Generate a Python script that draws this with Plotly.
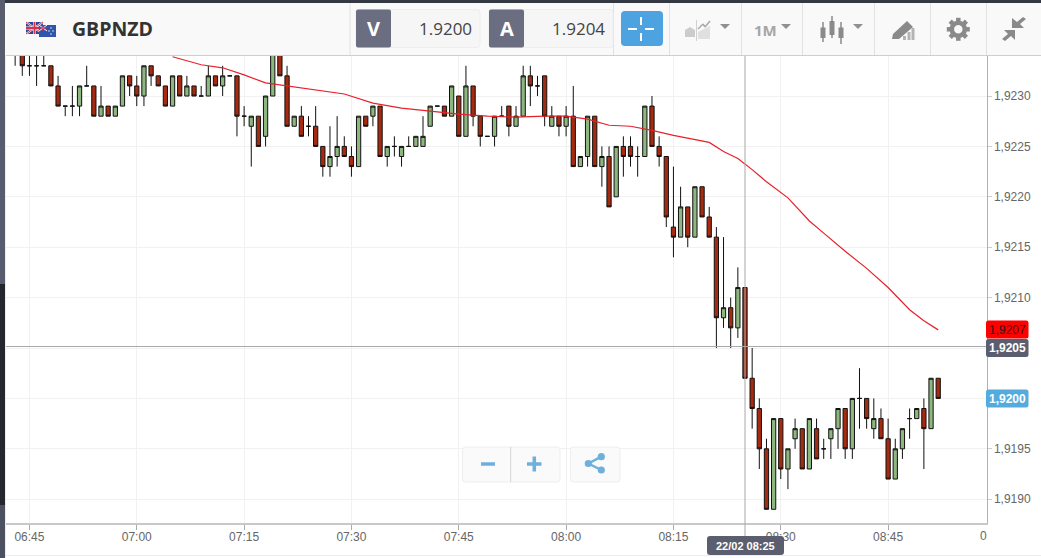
import math
import pandas as pd
import plotly.graph_objects as go

W, H = 1041, 558

# ---------- data ----------
start = "2018-02-22 06:43"
opens = [1.9235,1.9235,1.9233,1.9233,1.9233,1.9233,1.9231,1.9229,1.9229,1.9229,
 1.9231,1.9231,1.9228,1.9229,1.9228,1.9229,1.9232,1.9231,1.9230,1.9233,
 1.9232,1.9231,1.9229,1.9232,1.9230,1.9231,1.9230,1.9230,1.9232,1.9231,
 1.9232,1.9232,1.9228,1.9227,1.9228,1.9226,1.9230,1.9235,1.9232,1.9227,
 1.9228,1.9227,1.9227,1.9225,1.9223,1.9224,1.9225,1.9224,1.9223,1.9228,
 1.9228,1.9229,1.9224,1.9225,1.9224,1.9225,1.9225,1.9225,1.9227,1.9229,
 1.9229,1.9228,1.9230,1.9226,1.9231,1.9228,1.9226,1.9226,1.9228,1.9229,
 1.9227,1.9228,1.9232,1.9231,1.9232,1.9227,1.9228,1.9227,1.9228,1.9223,
 1.9224,1.9228,1.9223,1.9224,1.9220,1.9225,1.9225,1.9224,1.9224,1.9229,
 1.9225,1.9224,1.9217,1.9216,1.9219,1.9216,1.9221,1.9218,1.9216,1.9208,
 1.9209,1.9207,1.9211,1.9202,1.9199,1.9195,1.9189,1.9198,1.9193,1.9196,
 1.9197,1.9193,1.9197,1.9195,1.9196,1.9197,1.9199,1.9195,1.9200,1.9200,
 1.9197,1.9198,1.9196,1.9192,1.9195,1.9198,1.9198,1.9199,1.9197,1.9202]
highs = [1.9236,1.9236,1.9235,1.9235,1.9235,1.9233,1.9232,1.9229,1.9231,1.9231,
 1.9233,1.9231,1.9231,1.9229,1.9229,1.9232,1.9232,1.9232,1.9233,1.9233,
 1.9232,1.9231,1.9232,1.9232,1.9232,1.9231,1.9231,1.9233,1.9232,1.9233,
 1.9232,1.9232,1.9229,1.9228,1.9228,1.9230,1.9235,1.9236,1.9233,1.9228,
 1.9229,1.9228,1.9229,1.9225,1.9227,1.9228,1.9226,1.9225,1.9228,1.9228,
 1.9229,1.9229,1.9225,1.9226,1.9225,1.9226,1.9226,1.9228,1.9229,1.9229,
 1.9229,1.9231,1.9230,1.9233,1.9231,1.9228,1.9226,1.9228,1.9229,1.9229,
 1.9229,1.9233,1.9233,1.9232,1.9232,1.9229,1.9228,1.9229,1.9231,1.9224,
 1.9228,1.9228,1.9225,1.9225,1.9225,1.9226,1.9226,1.9225,1.9229,1.9230,
 1.9226,1.9224,1.9223,1.9221,1.9219,1.9221,1.9221,1.9219,1.9217,1.9216,
 1.9210,1.9213,1.9211,1.9205,1.9200,1.9196,1.9198,1.9198,1.9195,1.9198,
 1.9197,1.9198,1.9198,1.9196,1.9197,1.9199,1.9199,1.9200,1.9203,1.9200,
 1.9200,1.9199,1.9198,1.9196,1.9197,1.9199,1.9199,1.9200,1.9202,1.9202]
lows = [1.9233,1.9232,1.9232,1.9231,1.9233,1.9231,1.9229,1.9228,1.9228,1.9228,
 1.9231,1.9228,1.9228,1.9228,1.9228,1.9229,1.9230,1.9229,1.9229,1.9231,
 1.9231,1.9229,1.9229,1.9230,1.9230,1.9230,1.9230,1.9230,1.9231,1.9230,
 1.9232,1.9226,1.9227,1.9223,1.9225,1.9225,1.9230,1.9232,1.9227,1.9227,
 1.9226,1.9226,1.9225,1.9222,1.9222,1.9223,1.9224,1.9222,1.9223,1.9227,
 1.9227,1.9224,1.9223,1.9224,1.9223,1.9225,1.9225,1.9225,1.9227,1.9229,
 1.9228,1.9228,1.9226,1.9226,1.9227,1.9225,1.9226,1.9225,1.9228,1.9226,
 1.9227,1.9228,1.9229,1.9230,1.9227,1.9227,1.9226,1.9226,1.9223,1.9223,
 1.9223,1.9223,1.9221,1.9219,1.9220,1.9222,1.9223,1.9222,1.9224,1.9225,
 1.9223,1.9217,1.9214,1.9216,1.9215,1.9216,1.9218,1.9216,1.9205,1.9207,
 1.9205,1.9206,1.9202,1.9197,1.9193,1.9189,1.9189,1.9192,1.9191,1.9195,
 1.9193,1.9193,1.9194,1.9194,1.9194,1.9195,1.9194,1.9194,1.9197,1.9197,
 1.9196,1.9196,1.9192,1.9192,1.9194,1.9196,1.9198,1.9193,1.9197,1.9200]
closes = [1.9235,1.9233,1.9233,1.9233,1.9233,1.9231,1.9229,1.9229,1.9229,1.9231,
 1.9231,1.9228,1.9229,1.9228,1.9229,1.9232,1.9231,1.9230,1.9233,1.9232,
 1.9231,1.9229,1.9232,1.9230,1.9231,1.9230,1.9230,1.9232,1.9231,1.9232,
 1.9232,1.9228,1.9228,1.9228,1.9225,1.9230,1.9235,1.9232,1.9227,1.9228,
 1.9226,1.9227,1.9225,1.9223,1.9224,1.9225,1.9224,1.9223,1.9228,1.9227,
 1.9229,1.9224,1.9225,1.9225,1.9225,1.9225,1.9226,1.9226,1.9229,1.9229,
 1.9228,1.9231,1.9226,1.9231,1.9228,1.9226,1.9226,1.9228,1.9228,1.9227,
 1.9228,1.9232,1.9231,1.9231,1.9228,1.9228,1.9227,1.9228,1.9223,1.9224,
 1.9228,1.9223,1.9224,1.9219,1.9225,1.9224,1.9224,1.9224,1.9229,1.9225,
 1.9224,1.9218,1.9216,1.9219,1.9216,1.9221,1.9218,1.9216,1.9208,1.9209,
 1.9207,1.9211,1.9202,1.9199,1.9195,1.9189,1.9198,1.9193,1.9195,1.9197,
 1.9193,1.9198,1.9194,1.9195,1.9197,1.9199,1.9195,1.9200,1.9200,1.9198,
 1.9198,1.9196,1.9192,1.9195,1.9197,1.9198,1.9199,1.9197,1.9202,1.9200]

ma_minutes = [22,26,29,32,35,38,42,46,50,54,58,62,66,70,74,77,80,83,86,89,92,95,97,
              99,101,103,105,108,111,113,116,119,122,125,127,129]
ma_values = [1.92339,1.92331,1.92328,1.92321,1.92313,1.92310,1.92306,1.92302,1.92293,1.92288,
             1.92285,1.92282,1.92280,1.92279,1.92280,1.92280,1.92277,1.92271,1.92270,1.92266,
             1.92261,1.92257,1.92254,1.92245,1.92238,1.92227,1.92215,1.92199,1.92176,1.92164,
             1.92146,1.92129,1.92110,1.92088,1.92077,1.92068]

cross_time = "2018-02-22 08:25"
cross_price = 1.920515
x_range = ["2018-02-22 06:41:35", "2018-02-22 08:58:45"]
y_range = [1.918769, 1.923407]
y_ticks = [1.9190, 1.9195, 1.9200, 1.9205, 1.9210, 1.9215, 1.9220, 1.9225, 1.9230]
y_tick_text = ["1,9190", "1,9195", "", "", "1,9210", "1,9215", "1,9220", "1,9225", "1,9230"]

times = pd.date_range(start, periods=len(opens), freq="min")
ma_times = [times[0] + pd.Timedelta(minutes=m) for m in ma_minutes]

# ---------- helpers ----------
def px(x): return x / W
def py(y): return 1 - y / H

shapes, notes = [], []

def rect(x0, y0, x1, y1, fill, line=None, lw=1):
    shapes.append(dict(type="rect", xref="paper", yref="paper", layer="above",
                       x0=px(x0), x1=px(x1), y0=py(y0), y1=py(y1), fillcolor=fill,
                       line=dict(color=line or fill, width=lw if line else 0)))

def rrect(x0, y0, x1, y1, r, fill, line=None, lw=1):
    p = (f"M{px(x0+r)},{py(y0)} L{px(x1-r)},{py(y0)} Q{px(x1)},{py(y0)} {px(x1)},{py(y0+r)} "
         f"L{px(x1)},{py(y1-r)} Q{px(x1)},{py(y1)} {px(x1-r)},{py(y1)} L{px(x0+r)},{py(y1)} "
         f"Q{px(x0)},{py(y1)} {px(x0)},{py(y1-r)} L{px(x0)},{py(y0+r)} Q{px(x0)},{py(y0)} {px(x0+r)},{py(y0)} Z")
    shapes.append(dict(type="path", xref="paper", yref="paper", layer="above", path=p,
                       fillcolor=fill, line=dict(color=line or fill, width=lw if line else 0)))

def seg(x0, y0, x1, y1, color, lw=1):
    shapes.append(dict(type="line", xref="paper", yref="paper", layer="above",
                       x0=px(x0), x1=px(x1), y0=py(y0), y1=py(y1),
                       line=dict(color=color, width=lw)))

def poly(points, fill, line=None, lw=0):
    p = "M" + " L".join(f"{px(a)},{py(b)}" for a, b in points) + " Z"
    shapes.append(dict(type="path", xref="paper", yref="paper", layer="above", path=p,
                       fillcolor=fill, line=dict(color=line or fill, width=lw)))

def circle(cx, cy, r, fill, line=None, lw=0):
    shapes.append(dict(type="circle", xref="paper", yref="paper", layer="above",
                       x0=px(cx-r), x1=px(cx+r), y0=py(cy-r), y1=py(cy+r), fillcolor=fill,
                       line=dict(color=line or fill, width=lw)))

def text(x, y, s, size, color, family="Liberation Sans", bold=False, anchor="center"):
    notes.append(dict(xref="paper", yref="paper", x=px(x), y=py(y), text=f"<b>{s}</b>" if bold else s,
                      showarrow=False, xanchor=anchor, yanchor="middle", borderpad=0,
                      font=dict(size=size, color=color, family=family)))

# ---------- crosshair ----------
shapes.append(dict(type="line", xref="x", yref="paper", layer="above", x0=cross_time, x1=cross_time,
                   y0=py(536), y1=py(55), line=dict(color="#a8a8a8", width=1)))
shapes.append(dict(type="line", xref="paper", yref="y", layer="above", x0=px(5), x1=px(986),
                   y0=cross_price, y1=cross_price, line=dict(color="#a8a8a8", width=1)))

# ---------- frame / header ----------
rect(0, 0, W, 55, "#f9f9f9")
seg(5, 55.5, 1041, 55.5, "#cfcfcf", 1)
rect(0, 0, W, 3, "#343843")
rect(0, 0, 5, 284, "#585c6e")
rect(0, 284, 5, 505, "#25272e")
rect(0, 505, 5, H, "#4d5060")
seg(5.5, 55, 5.5, H, "#ececec", 1)
seg(5, 555.5, 1041, 555.5, "#ededed", 1)
for sx in [350, 613.5, 669.5, 741.5, 802.5, 874.5, 930.5, 986.5]:
    seg(sx, 3, sx, 55, "#e2e2e2", 1)

# flags
rect(26, 22, 43, 34, "#2c4596")
seg(26, 22, 43, 34, "#ffffff", 2); seg(26, 34, 43, 22, "#ffffff", 2)
seg(26, 22, 43, 34, "#d8304a", 1); seg(26, 34, 43, 22, "#d8304a", 1)
seg(34.5, 22, 34.5, 34, "#ffffff", 3); seg(26, 28, 43, 28, "#ffffff", 3)
seg(34.5, 22, 34.5, 34, "#d8304a", 2); seg(26, 28, 43, 28, "#d8304a", 2)
rect(39, 25, 56, 37, "#3054ab")
seg(39, 25, 47, 31, "#ffffff", 1); seg(39, 31, 47, 25, "#ffffff", 1)
seg(43, 25, 43, 31, "#d8304a", 1); seg(39, 28, 47, 28, "#d8304a", 1)
for fx, fy in [(51, 28), (49, 31), (53, 31), (51, 34)]:
    circle(fx, fy, 0.8, "#e8e8f0")
text(70.5, 29, "GBPNZD", 19.5, "#333333", "Open Sans", True, "left")

# bid / ask boxes
for x0, x1, x2, letter, val, tx in [(356, 391, 480, "V", "1.9200", 472.5), (489, 524, 613, "A", "1.9204", 606)]:
    rrect(x0, 9.5, x2, 47.5, 3, "#f6f6f6", "#eeeeee", 1)
    rrect(x0, 9.5, x1, 47.5, 2, "#6a6e80")
    text((x0 + x1) / 2, 29, letter, 20, "#ffffff", "Open Sans", True)
    text(tx, 28.5, val, 17, "#444444", "Open Sans", False, "right")

# crosshair button
rrect(621, 11, 663, 46, 4, "#4ca3e0")
for a in [(628, 29, 637, 29), (645, 29, 654, 29), (641, 17, 641, 25), (641, 33, 641, 41)]:
    seg(*a, "#ffffff", 2)

# toolbar icons
ig = "#8a8a8a"
poly([(685, 37), (685, 30), (690, 27), (695, 30), (695, 37)], "#cccccc")
poly([(698, 39), (698, 32), (704, 29), (710, 26), (710, 39)], "#e0e0e0")
seg(698, 29, 703, 24, "#a8a8a8", 1.5); seg(703, 24, 705, 27, "#a8a8a8", 1.5); seg(705, 27, 710, 21, "#a8a8a8", 1.5)
seg(696.5, 20, 696.5, 41, "#d0d0d0", 1)
for cx0 in [720, 781, 853]:
    poly([(cx0, 24), (cx0 + 10, 24), (cx0 + 5, 29)], "#909090")
text(765, 30, "1M", 15, "#a6a6a6", "Open Sans", True)
for cx0, y0, y1, b0, b1 in [(823, 22, 42, 27.5, 38), (832, 16, 38, 21, 35), (841, 22, 44, 27.5, 38)]:
    seg(cx0, y0, cx0, y1, ig, 1.5)
    rect(cx0 - 2.5, b0, cx0 + 2.5, b1, ig)
poly([(892, 39), (893, 34), (907, 21), (913, 27), (899, 39)], ig)
for bx, by in [(903, 36), (907.5, 32), (911.5, 28)]:
    rect(bx, by, bx + 3, 40, "#b4b4b4")
cgx, cgy = 958.3, 29.3
for i in range(8):
    a = i * math.pi / 4
    seg(cgx + 8 * math.cos(a), cgy + 8 * math.sin(a), cgx + 11.5 * math.cos(a), cgy + 11.5 * math.sin(a), ig, 4.5)
circle(cgx, cgy, 6.5, "#f9f9f9", ig, 4.5)
poly([(1012, 18), (1012, 28), (1024, 28), (1020, 24), (1026, 19), (1023, 17), (1017, 22)], ig)
poly([(1015, 30), (1015, 40), (1011, 36), (1005, 41), (1002, 39), (1008, 34), (1004, 30)], ig)

# overlay buttons
rrect(462.5, 447, 560, 482, 3, "#fafafa", "#eeeeee", 1)
seg(510.7, 447, 510.7, 482, "#d5d5d5", 1)
rrect(570.5, 447, 620, 482, 3, "#fafafa", "#eeeeee", 1)
bl = "#6eb0dc"
seg(481, 464, 495, 464, bl, 3.5)
seg(527, 464, 541.5, 464, bl, 3.5); seg(534.3, 456.5, 534.3, 471.5, bl, 3.5)
seg(588.3, 463.5, 601.3, 456.7, bl, 2.5); seg(588.3, 463.5, 601.3, 470, bl, 2.5)
for cx0, cy0 in [(588.3, 463.5), (601.3, 456.7), (601.3, 470)]:
    circle(cx0, cy0, 3.6, bl)

# price tags
for y0, bg, s, fg, bold in [(320.5, "#ff0000", "1,9207", "#3a1010", False),
                            (339, "#5b5e6e", "1,9205", "#ffffff", True),
                            (389.5, "#55acdc", "1,9200", "#ffffff", True)]:
    rrect(986, y0, 1028.5, y0 + 18, 2.5, bg)
    text(1007.5, y0 + 9.3, s, 12, fg, "Liberation Sans", bold)

# crosshair time tag
rrect(707, 536, 784, 555, 3, "#5b5e6e")
text(745.5, 545.5, "22/02 08:25", 11, "#ffffff", "Liberation Sans", True)
text(983, 536, "0", 12, "#666666")

# ---------- figure ----------
fig = go.Figure()
fig.add_trace(go.Candlestick(x=times, open=opens, high=highs, low=lows, close=closes,
                             increasing=dict(line=dict(color="#111111", width=1), fillcolor="#8db77e"),
                             decreasing=dict(line=dict(color="#111111", width=1), fillcolor="#a62a10"),
                             whiskerwidth=0, showlegend=False, hoverinfo="skip"))
fig.add_trace(go.Scatter(x=ma_times, y=ma_values, mode="lines", showlegend=False, hoverinfo="skip",
                         line=dict(color="#e8202a", width=1.2)))

fig.update_layout(
    width=W, height=H, autosize=False, margin=dict(l=0, r=0, t=0, b=0),
    paper_bgcolor="#ffffff", plot_bgcolor="#ffffff", separators=", ", boxgap=0.15,
    showlegend=False, shapes=shapes, annotations=notes,
    font=dict(family="Liberation Sans", size=12, color="#666666"),
    xaxis=dict(type="date", range=x_range, domain=[px(5), px(986.5)], anchor="y",
               rangeslider=dict(visible=False), tickformat="%H:%M",
               tick0="2018-02-22 06:45", dtick=900000, ticks="outside", ticklen=5,
               ticklabelstandoff=-3, tickcolor="#aaaaaa", showgrid=True, gridcolor="#f1f1f1", gridwidth=1,
               showline=True, linecolor="#c8c8c8", linewidth=2, zeroline=False),
    yaxis=dict(range=y_range, domain=[py(522.5), py(55)], anchor="x", side="right",
               tickmode="array", tickvals=y_ticks, ticktext=y_tick_text, ticks="outside", ticklen=4,
               ticklabelstandoff=0, tickcolor="#cccccc", showgrid=True, gridcolor="#f1f1f1", gridwidth=1,
               showline=True, linecolor="#b0b0b0", linewidth=1, zeroline=False),
)

fig.write_html("out.html", config=dict(displayModeBar=False),
               post_script="document.body.style.margin='0';document.documentElement.style.overflow='hidden';")
